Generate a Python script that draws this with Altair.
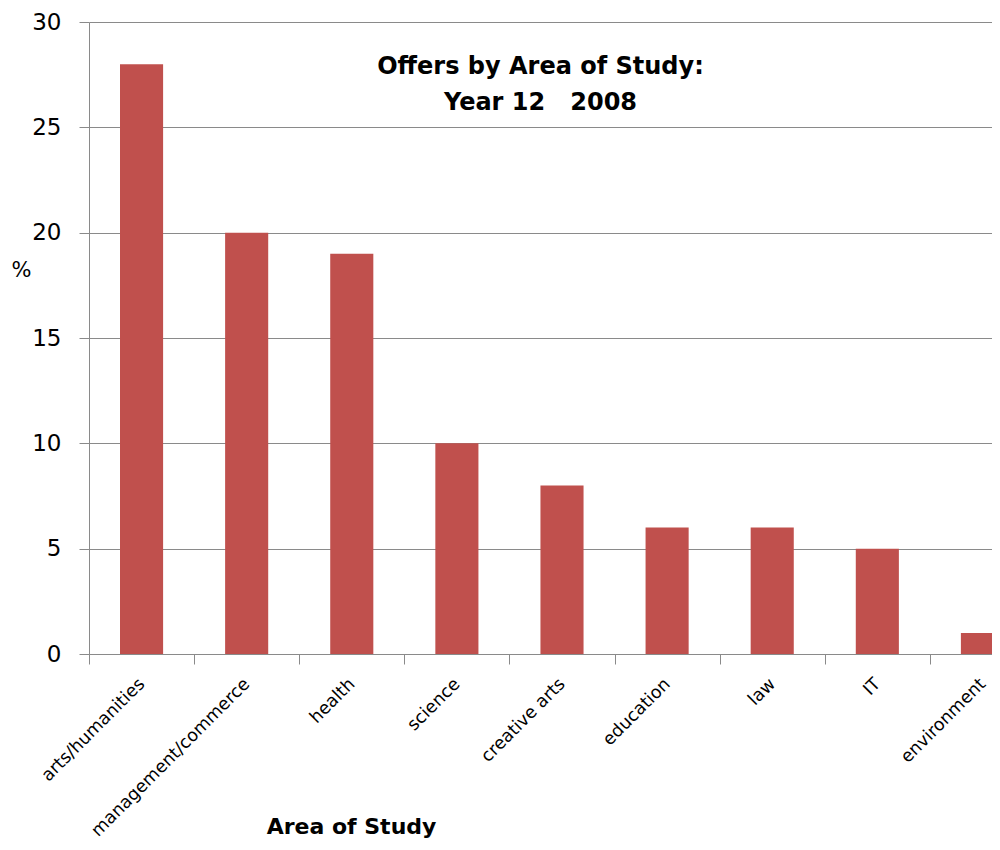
import altair as alt
import pandas as pd

areas = ["arts/humanities", "management/commerce", "health", "science",
         "creative arts", "education", "law", "IT", "environment"]
percent = [28, 20, 19, 10, 8, 6, 6, 5, 1]

df = pd.DataFrame({"area": areas, "pct": percent})

grey = "#8a8a8a"
font = "DejaVu Sans"

chart = alt.Chart(df).mark_bar(color="#C0504D", width=alt.RelativeBandSize(0.41)).encode(
    x=alt.X("area:N", sort=areas,
            scale=alt.Scale(range=[0, 946], paddingInner=0, paddingOuter=0),
            axis=alt.Axis(title="Area of Study", labelAngle=-45, labelAlign="right",
                          labelBaseline="middle", labelFont=font, labelFontSize=17.5,
                          labelColor="black", labelPadding=17, tickBand="extent",
                          tickSize=10, tickColor=grey, domainColor=grey, grid=False,
                          labelLimit=0, labelOverlap=False,
                          titleFont=font, titleFontSize=22, titleFontWeight="bold",
                          titleColor="black", titleX=262, titleY=179, titleAlign="center",
                          titleBaseline="alphabetic")),
    y=alt.Y("pct:Q", scale=alt.Scale(domain=[0, 30]),
            axis=alt.Axis(title="%", values=[0, 5, 10, 15, 20, 25, 30],
                          labelFont=font, labelFontSize=23, labelColor="black",
                          labelPadding=18, tickSize=10, tickColor=grey, domainColor=grey,
                          gridColor=grey, titleAngle=0, titleX=-68, titleY=248,
                          titleAlign="center", titleBaseline="middle",
                          titleFont=font, titleFontSize=21, titleFontWeight="normal",
                          titleColor="black")),
).properties(
    width=903, height=632,
    autosize=alt.AutoSizeParams(type="none"),
    padding={"left": 81, "top": 14, "right": 0, "bottom": 188},
    title=alt.Title(["Offers by Area of Study:", "Year 12\u00a0\u00a0\u00a02008"], font=font,
                    fontSize=24, fontWeight="bold", color="black", anchor="middle",
                    baseline="top", lineHeight=36, offset=0, dy=104, frame="group"),
).configure_view(stroke=None).configure_axis(gridWidth=1, domainWidth=1, tickWidth=1)

chart.save("out.html", embed_options={"renderer": "svg", "actions": False})
